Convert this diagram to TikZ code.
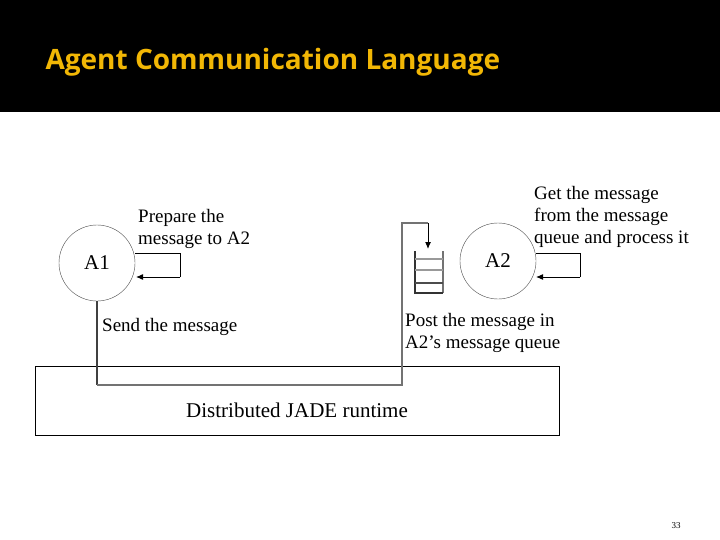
\documentclass[tikz,border=0pt]{standalone}
\usepackage{fontspec}
\usetikzlibrary{arrows.meta}
\setmainfont{Liberation Serif}
\newfontfamily\titlefont{Open Sans}
\definecolor{ttl}{HTML}{F2B705}
\begin{document}
\begin{tikzpicture}[x=1pt,y=-1pt,
  lbl/.style={anchor=west,inner sep=0pt,font=\fontsize{19}{22}\selectfont,align=left},
  agent/.style={circle,draw=black!70,minimum size=76pt,inner sep=0pt,font=\fontsize{21}{22}\selectfont},
  wire/.style={draw=black!55,line width=1.6pt},
  arr/.style={draw=black,line width=1pt,-{Latex[length=7pt,width=6pt]}}]
\useasboundingbox (0,0) rectangle (720,540);
\fill[black] (0,0) rectangle (720,112);
\node[anchor=west,text=ttl,font=\titlefont\fontsize{28}{30}\selectfont\bfseries] (title) at (42,62) {Agent Communication Language};
\node[agent] (a1) at (97,263) {A1};
\node[agent] (a2) at (498,261) {A2};
\node[draw=black,minimum width=524pt,minimum height=69pt,inner sep=0pt] (rt) at (297,400.5) {};
\node[font=\fontsize{21}{22}\selectfont] (rtl) at (297,410) {Distributed JADE runtime};
% A1 loop
\coordinate (l1) at (180,253); \coordinate (l2) at (180,277);
\draw[line width=1pt] (135,253) -- (l1) -- (l2);
\draw[arr] (l2) -- ++(-44,0) coordinate (l3);
% A2 loop
\coordinate (m1) at (580,253); \coordinate (m2) at (580,277);
\draw[line width=1pt] (536,253) -- (m1) -- (m2);
\draw[arr] (m2) -- ++(-44,0);
% queue
\draw[black!55,line width=1.2pt] (443,251) -- (443,293);
\draw[black!80,line width=1.2pt] (415,251) -- (415,293) -- (443,293);
\foreach \y/\c in {259/black!40,270/black!40,283/black!70} \draw[\c,line width=1.2pt] (415,\y) -- (443,\y);
% send path
\coordinate (c1) at (97,385); \coordinate (c2) at (402,385);
\coordinate (c3) at (402,223); \coordinate (c4) at (428,223);
\draw[line width=1.4pt,black!75] (a1.south) -- (c1);
\draw[wire] (c1) -- (c2) -- (c3) -- (c4);
\draw[arr] (c4) -- (428,249);
% labels
\node[lbl] (p1) at (138,229) {Prepare the\\message to A2};
\node[lbl] (s1) at (102,327) {Send the message};
\node[lbl] (p2) at (405,333) {Post the message in\\A2's message queue};
\node[lbl] (g1) at (534,217) {Get the message\\from the message\\queue and process it};
\node[font=\fontsize{9}{10}\selectfont] (pg) at (676,526) {33};
\end{tikzpicture}
\end{document}
